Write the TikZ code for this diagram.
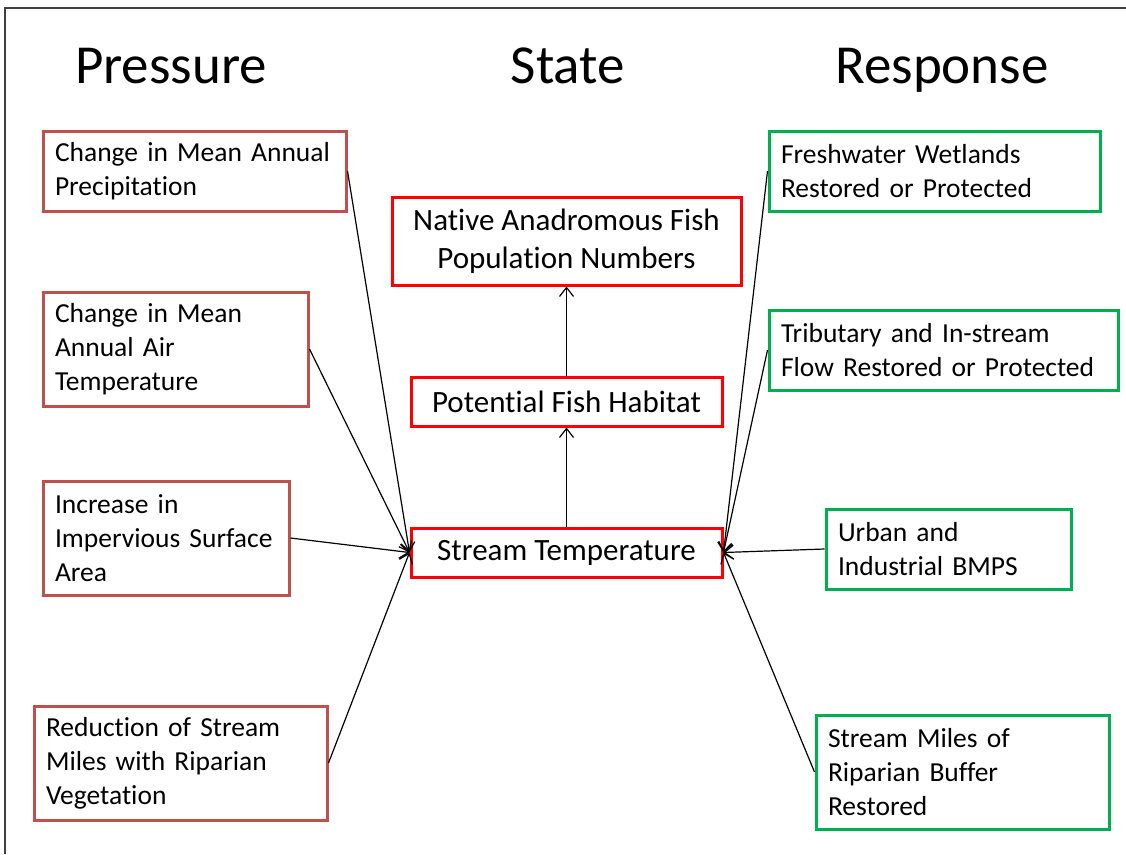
\documentclass[tikz,border=0pt]{standalone}
\usepackage{fontspec}
\setmainfont{Carlito}[Ligatures=NoCommon]
\usetikzlibrary{arrows.meta}
\definecolor{pres}{HTML}{C0504D}
\definecolor{resp}{HTML}{00B050}
\definecolor{stat}{HTML}{FF0000}
\begin{document}
\begin{tikzpicture}[x=1pt,y=-1pt,
  box/.style={draw, line width=3pt, inner xsep=12pt, inner ysep=0pt, align=left,
    font=\fontsize{27.5}{34}\selectfont},
  pbox/.style={box, draw=pres},
  rbox/.style={box, draw=resp},
  sbox/.style={draw=stat, line width=3pt, inner sep=0pt, align=center,
    font=\fontsize{31}{38.5}\selectfont},
  title/.style={font=\fontsize{55}{60}\selectfont, anchor=base},
  conn/.style={line width=1.2pt, -{Straight Barb[length=9pt,width=14pt]}}
]
\useasboundingbox (0,0) rectangle (1126,854);
\draw[line width=1.2pt, black!75] (5,854) -- (5,8) -- (1126,8);

\node[title] (tp) at (171,83) {Pressure};
\node[title] (ts) at (568,83) {State};
\node[title] (tr) at (942,83) {Response};

\node[pbox, minimum height=80pt, text width=279pt] (p1) at (194.5,171) {Change in Mean Annual\\Precipitation};
\node[pbox, minimum height=114pt, text width=241pt] (p2) at (175.5,349) {Change in Mean\\Annual Air\\Temperature};
\node[pbox, minimum height=114pt, text width=222pt] (p3) at (166,538) {Increase in\\Impervious Surface\\Area};
\node[pbox, minimum height=114pt, text width=269pt] (p4) at (180.5,763) {Reduction of Stream\\Miles with Riparian\\Vegetation};

\node[sbox, minimum width=349pt, minimum height=88pt] (s1) at (566.5,241) {Native Anadromous Fish\\Population Numbers};
\node[sbox, minimum width=311pt, minimum height=49pt] (s2) at (566.5,401.5) {Potential Fish Habitat};
\node[sbox, minimum width=311pt, minimum height=49pt] (s3) at (566.5,552.5) {Stream Temperature};

\node[rbox, minimum height=80pt, text width=307pt] (r1) at (934.5,171) {Freshwater Wetlands\\Restored or Protected};
\node[rbox, minimum height=80pt, text width=325pt] (r2) at (943.5,350) {Tributary and In-stream\\Flow Restored or Protected};
\node[rbox, minimum height=80pt, text width=221pt] (r3) at (948.5,549) {Urban and\\Industrial BMPS};
\node[rbox, minimum height=114pt, text width=269pt] (r4) at (962.5,772) {Stream Miles of\\Riparian Buffer\\Restored};

\draw[conn] (p1.east) -- (s3.west);
\draw[conn] (p2.east) -- (s3.west);
\draw[conn] (p3.east) -- (s3.west);
\draw[conn] (p4.east) -- (s3.west);
\draw[conn] (r1.west) -- (s3.east);
\draw[conn] (r2.west) -- (s3.east);
\draw[conn] (r3.west) -- (s3.east);
\draw[conn] (r4.west) -- (s3.east);
\draw[conn] (s3.north) -- (s2.south);
\draw[conn] (s2.north) -- (s1.south);
\end{tikzpicture}
\end{document}
